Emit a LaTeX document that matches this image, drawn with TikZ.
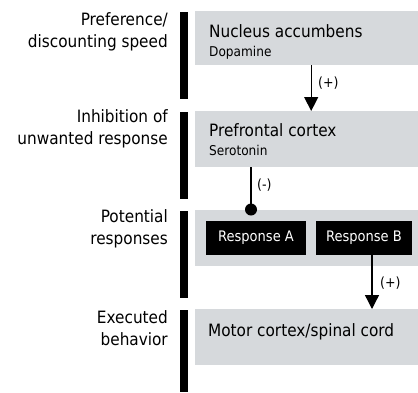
\documentclass[tikz,border=0pt]{standalone}
\usepackage{fontspec}
\setmainfont{DejaVu Sans Condensed}
\usetikzlibrary{arrows.meta,calc}
\definecolor{boxgray}{RGB}{214,217,220}
\tikzset{
  graybox/.style={fill=boxgray, draw=none, anchor=north west, inner sep=0pt},
  levelbar/.style={fill=black, draw=none, anchor=north west, inner sep=0pt, minimum width=8pt},
  leftlabel/.style={anchor=east, align=right, inner sep=0pt, font=\fontsize{17}{22}\selectfont},
  maintext/.style={anchor=base west, inner sep=0pt, font=\fontsize{17}{20}\selectfont},
  subtext/.style={anchor=base west, inner sep=0pt, font=\fontsize{13.5}{16}\selectfont},
  respbox/.style={fill=black, text=white, draw=none, inner sep=0pt, minimum height=34pt, font=\fontsize{14.5}{16}\selectfont},
  conn/.style={line width=1.3pt},
  arr/.style={conn, -{Triangle[width=14pt,length=14pt]}},
  sign/.style={anchor=west, inner sep=0pt, font=\fontsize{14}{16}\selectfont},
  inhdot/.style={circle, fill=black, inner sep=0pt, minimum size=12pt}
}
\begin{document}
\begin{tikzpicture}[x=1pt,y=-1pt]
\useasboundingbox (0,0) rectangle (418,392);
% gray level boxes
\node[graybox, minimum width=223pt, minimum height=54pt] (nac) at (195,11) {};
\node[graybox, minimum width=223pt, minimum height=56pt] (pfc) at (195,111) {};
\node[graybox, minimum width=223pt, minimum height=56pt] (pot) at (195,210) {};
\node[graybox, minimum width=223pt, minimum height=56pt] (mot) at (195,309) {};
% black bars
\node[levelbar, minimum height=87pt] (bar1) at (180,12) {};
\node[levelbar, minimum height=87pt] (bar2) at (180,112) {};
\node[levelbar, minimum height=87pt] (bar3) at (180,211) {};
\node[levelbar, minimum height=82pt] (bar4) at (180,310) {};
% left labels
\node[leftlabel] (l1) at (168,32) {Preference/\\discounting speed};
\node[leftlabel] (l2) at (168,128.5) {Inhibition of\\unwanted response};
\node[leftlabel] (l3) at (168,229) {Potential\\responses};
\node[leftlabel] (l4) at (168,328) {Executed\\behavior};
% box texts
\node[maintext] (t1) at (209,37.5) {Nucleus accumbens};
\node[subtext] (s1) at (209,56) {Dopamine};
\node[maintext] (t2) at (209,136.5) {Prefrontal cortex};
\node[subtext] (s2) at (209,155.5) {Serotonin};
\node[maintext] (t4) at (208,336) {Motor cortex/spinal cord};
% responses
\node[respbox, minimum width=100pt] (ra) at (256,238) {Response A};
\node[respbox, minimum width=96pt] (rb) at (364,238) {Response B};
% connectors
\draw[arr] ([xshift=4.5pt]nac.south) -- ([xshift=4.5pt]nac.south |- pfc.north);
\node[sign] (p1) at (318,83) {(+)};
\node[inhdot] (dot) at (251,209.5) {};
\draw[conn] (pfc.south -| dot.center) -- (dot.center);
\node[sign] (m1) at (257,185) {(-)};
\draw[arr] ([xshift=8pt]rb.south) -- ([xshift=8pt]rb.south |- mot.north);
\node[sign] (p2) at (380,283) {(+)};
\end{tikzpicture}
\end{document}
